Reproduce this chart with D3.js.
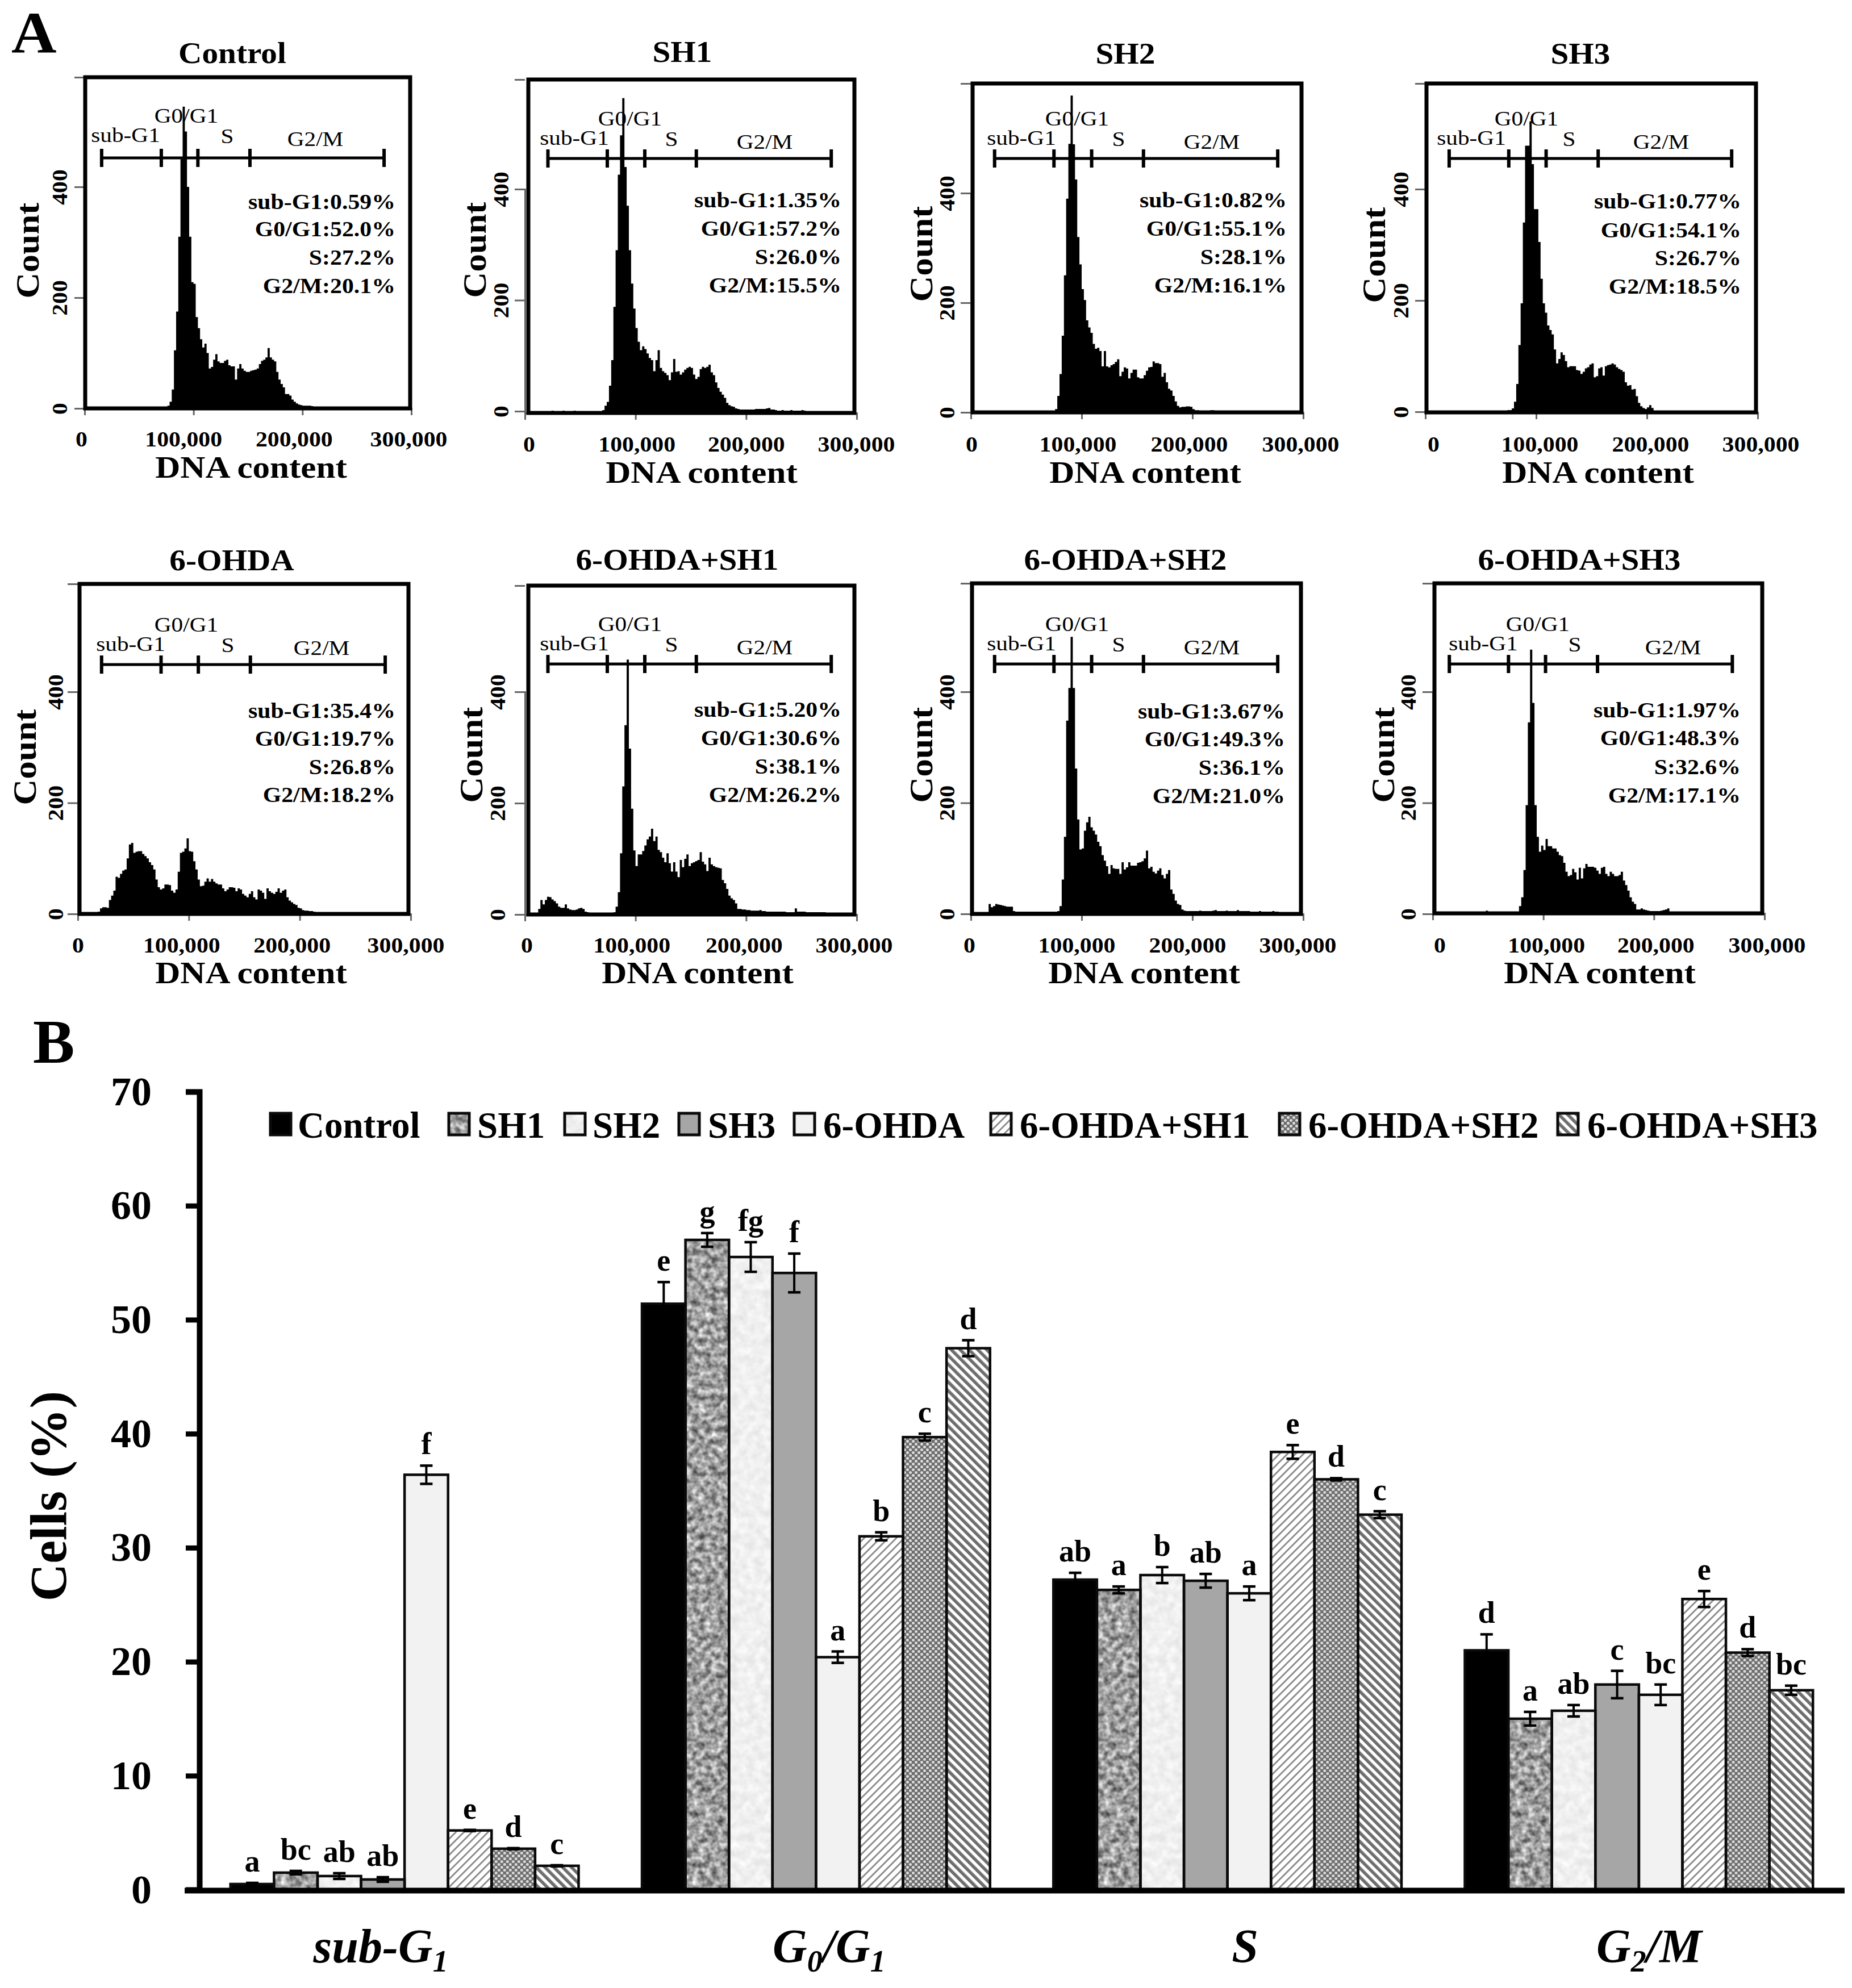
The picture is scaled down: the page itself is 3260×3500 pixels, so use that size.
<!DOCTYPE html>
<html>
<head>
<meta charset="utf-8">
<script src="https://cdn.jsdelivr.net/npm/d3@7"></script>
<style>
  html, body { margin: 0; background: #fff; }
  text { font-family: "Liberation Serif", serif; fill: #000; }
</style>
</head>
<body>
<script>
// ---- panel A data ----
var panelNames = ["Control", "SH1", "SH2", "SH3", "6-OHDA", "6-OHDA+SH1", "6-OHDA+SH2", "6-OHDA+SH3"];
var binWidth = 2000;
var tickX = [0, 100000, 200000, 300000];
var tickY = [0, 200, 400];
var gateNames = ["sub-G1", "G0/G1", "S", "G2/M"];

var statSub = ["0.59", "1.35", "0.82", "0.77", "35.4", "5.20", "3.67", "1.97"];
var statG0  = ["52.0", "57.2", "55.1", "54.1", "19.7", "30.6", "49.3", "48.3"];
var statS   = ["27.2", "26.0", "28.1", "26.7", "26.8", "38.1", "36.1", "32.6"];
var statG2  = ["20.1", "15.5", "16.1", "18.5", "18.2", "26.2", "21.0", "17.1"];

var gates = [
    [15600, 70400, 104000, 151800, 275000],
    [20800, 74500, 108400, 155000, 277000],
    [21400, 75000, 109000, 155800, 277000],
    [21500, 75300, 109000, 156000, 276500],
    [21400, 75000, 108600, 155500, 277000],
    [20800, 74500, 108400, 155000, 277000],
    [21400, 75000, 109000, 155800, 277000],
    [15000, 68500, 102000, 149000, 270900]
];

// first bin of each histogram, then counts per bin
var histStart = [38, 10, 8, 8, 9, 6, 8, 20];
var histControl = [5,12,34,105,175,310,450,545,500,400,310,228,225,165,145,125,110,117,100,72,75,88,98,85,82,82,86,88,78,76,76,52,72,80,72,68,66,66,68,69,70,72,80,86,88,92,109,92,88,85,66,52,44,38,26,26,23,16,12,9,7,6,5,5,5,5,4,3,2,1];
var histSH1 = [0,0,1,0,0,0,0,1,0,0,0,0,1,0,0,0,0,0,0,0,0,0,0,0,0,2,10,17,46,92,188,290,426,497,564,440,370,290,230,185,150,125,110,117,112,104,96,92,72,92,110,78,72,69,65,56,70,94,71,72,66,70,75,78,80,78,66,58,62,76,80,78,80,84,70,65,52,42,35,30,24,15,11,9,8,5,4,3,3,3,3,3,3,3,4,4,4,4,4,5,6,3,3,2,1,1,2,1,1,1,2,1,1,1,1,2,1];
var histSH2 = [0,0,1,1,0,0,0,0,0,0,0,0,0,1,1,0,1,0,0,0,0,0,1,1,1,1,0,1,1,3,6,30,70,140,250,390,490,578,489,425,320,270,225,205,168,155,145,125,116,118,112,84,112,84,82,86,88,92,97,66,74,82,80,62,72,78,78,64,62,62,68,76,82,83,93,90,90,88,65,72,55,43,40,30,20,12,9,10,10,11,11,10,6,4,4,3,3,3,3,3,4,4,3,3,2,1];
var histSH3 = [0,0,0,0,0,0,0,0,0,0,0,0,0,0,0,0,2,1,1,1,2,1,1,1,1,1,1,2,2,3,3,6,18,50,120,195,340,478,478,522,445,364,364,305,239,195,178,155,147,139,112,87,95,107,102,91,80,82,82,82,75,74,68,72,78,80,85,87,62,64,78,80,65,82,84,85,87,85,80,77,75,72,53,47,48,40,41,28,16,10,7,5,8,12,7,2];
var hist6OHDA = [4,10,12,12,11,25,33,42,67,65,72,78,80,100,125,128,110,112,113,113,108,104,100,93,88,80,62,48,44,46,53,53,52,42,38,44,76,110,112,118,136,113,112,95,80,62,50,51,58,64,58,63,58,55,53,53,46,41,44,48,48,47,41,46,44,36,33,30,36,41,30,26,44,42,38,27,46,41,38,36,40,46,38,42,44,30,24,21,18,16,11,10,7,6,6,5,5,4,3,2,2,2,2,2,1,1,1,1,1,2,1,1,1];
var hist6SH1 = [10,26,18,26,32,31,27,24,20,14,12,12,18,11,9,8,8,9,11,12,10,5,4,3,3,3,3,3,3,3,3,3,3,3,4,14,40,110,230,340,458,298,190,115,87,108,108,114,124,135,140,154,132,140,116,112,102,94,110,92,77,94,77,67,98,85,100,108,87,92,94,96,98,112,95,90,78,102,90,87,85,84,83,62,56,46,34,29,26,20,10,10,9,9,8,8,7,7,7,7,8,6,6,5,5,5,5,5,5,5,5,5,4,4,4,4,11,5,5,5,5,4,4,4,4,4,4,4,4,4,3,3,3,3,3,3,3];
var hist6SH2 = [18,12,14,18,17,16,15,14,13,13,13,5,4,4,4,4,4,4,4,4,4,4,4,4,4,4,4,4,4,4,4,5,14,62,139,348,407,499,407,262,170,116,118,150,165,175,156,150,143,130,122,106,96,86,72,88,82,81,81,72,93,80,84,93,87,87,87,92,93,95,100,114,82,85,76,73,78,82,70,64,72,79,44,36,24,18,16,8,6,5,5,5,5,5,5,6,5,5,5,5,5,6,7,5,5,5,5,6,5,5,5,5,7,5,5,5,5,5,4,4,4,4,5,4,4,4,4,4,5,4,4];
var hist6SH3 = [2,2,3,3,6,3,3,2,2,3,2,2,2,2,2,2,2,2,3,14,30,79,196,345,476,380,196,139,112,123,115,135,122,122,118,118,112,106,104,92,76,68,70,81,75,62,83,64,82,90,85,85,85,83,78,72,83,85,72,68,76,72,68,68,70,76,60,52,42,30,22,18,8,8,10,8,7,6,5,5,5,5,5,6,7,8,10,4,4,4,3,3,3,3,3,3,3,3,3,3,3,3,2,2,2,2,2,2,2];
var histCounts = [histControl, histSH1, histSH2, histSH3, hist6OHDA, hist6SH1, hist6SH2, hist6SH3];

// ---- panel B data ----
var phases = ["sub-G1", "G0/G1", "S", "G2/M"];
var phaseParts = [
    [["sub-G", 0], ["1", 1]],
    [["G", 0], ["0", 1], ["/G", 0], ["1", 1]],
    [["S", 0]],
    [["G", 0], ["2", 1], ["/M", 0]]
];
var groups = panelNames;

var meansSub = [0.5, 1.5, 1.2, 0.9, 36.4, 5.2, 3.6, 2.1];
var meansG0  = [51.4, 57.0, 55.5, 54.1, 20.4, 31.0, 39.7, 47.5];
var meansS   = [27.2, 26.3, 27.6, 27.1, 26.0, 38.4, 36.0, 32.9];
var meansG2  = [21.0, 15.0, 15.7, 18.0, 17.1, 25.5, 20.8, 17.5];

var errSub = [0.1, 0.15, 0.25, 0.2, 0.8, 0.05, 0.05, 0.05];
var errG0  = [1.9, 0.6, 1.3, 1.7, 0.5, 0.35, 0.3, 0.7];
var errS   = [0.6, 0.3, 0.7, 0.6, 0.6, 0.6, 0.1, 0.3];
var errG2  = [1.4, 0.6, 0.5, 1.2, 0.9, 0.7, 0.3, 0.4];

var lettersSub = ["a", "bc", "ab", "ab", "f", "e", "d", "c"];
var lettersG0  = ["e", "g", "fg", "f", "a", "b", "c", "d"];
var lettersS   = ["ab", "a", "b", "ab", "a", "e", "d", "c"];
var lettersG2  = ["d", "a", "ab", "c", "bc", "e", "d", "bc"];

var means   = [meansSub, meansG0, meansS, meansG2];
var errs    = [errSub, errG0, errS, errG2];
var letters = [lettersSub, lettersG0, lettersS, lettersG2];

// ---- layout of the panels, in page pixels ----
// L R T B = frame, x0 x300 = tick ends, y0 y400 = count ticks
var layout = [
  {L: 150,  R: 722,  T: 136,  B: 719,  x0: 149,  x300: 724,  y0: 719,  y400: 329,  gateY: 278,  title: [409, 111],   dna: [442, 841],   labY: 786,  countX: 68,   countY: 441,  tickOff: -31, off: [-6, -18, -15, -5], gateLab: [72, 179, 251, 406], statR: 696,  stat: [368, 416, 466, 516],     labDy: -4},
  {L: 930,  R: 1504, T: 140,  B: 727,  x0: 924,  x300: 1508, y0: 724,  y400: 333,  gateY: 279,  title: [1201, 109],  dna: [1235, 850],  labY: 795,  countX: 855,  countY: 440,  tickOff: -29, off: [7, 2, 0, -1],      gateLab: [87, 185, 258, 422], statR: 1481, stat: [365, 415, 465, 515],     labDy: 0},
  {L: 1712, R: 2291, T: 147,  B: 726,  x0: 1709, x300: 2294, y0: 726,  y400: 340,  gateY: 279,  title: [1981, 112],  dna: [2016, 850],  labY: 795,  countX: 1641, countY: 447,  tickOff: -29, off: [1, -7, -6, -5],    gateLab: [89, 187, 260, 424], statR: 2265, stat: [365, 415, 465, 515],     labDy: 0},
  {L: 2511, R: 3091, T: 147,  B: 726,  x0: 2509, x300: 3094, y0: 725,  y400: 333,  gateY: 279,  title: [2782, 112],  dna: [2813, 850],  labY: 795,  countX: 2438, countY: 449,  tickOff: -30, off: [14, 6, 6, 5],      gateLab: [81, 178, 253, 415], statR: 3065, stat: [367, 418, 467, 517],     labDy: 0},
  {L: 140,  R: 719,  T: 1028, B: 1609, x0: 137,  x300: 723,  y0: 1609, y400: 1218, gateY: 1170, title: [408, 1004],  dna: [442, 1731],  labY: 1677, countX: 63,   countY: 1333, tickOff: -26, off: [0, -13, -14, -9],  gateLab: [93, 191, 264, 429], statR: 696,  stat: [1264, 1313, 1363, 1412], labDy: 0},
  {L: 930,  R: 1504, T: 1031, B: 1610, x0: 924,  x300: 1508, y0: 1610, y400: 1218, gateY: 1169, title: [1192, 1003], dna: [1228, 1731], labY: 1677, countX: 849,  countY: 1329, tickOff: -35, off: [3, -7, -4, -5],    gateLab: [87, 185, 258, 422], statR: 1481, stat: [1262, 1312, 1362, 1412], labDy: 0},
  {L: 1711, R: 2290, T: 1027, B: 1609, x0: 1709, x300: 2294, y0: 1609, y400: 1218, gateY: 1169, title: [1981, 1003], dna: [2014, 1731], labY: 1677, countX: 1641, countY: 1329, tickOff: -29, off: [-3, -9, -9, -10],  gateLab: [89, 187, 260, 424], statR: 2262, stat: [1265, 1314, 1364, 1414], labDy: 0},
  {L: 2525, R: 3102, T: 1027, B: 1608, x0: 2522, x300: 3106, y0: 1609, y400: 1218, gateY: 1169, title: [2780, 1003], dna: [2816, 1731], labY: 1677, countX: 2454, countY: 1329, tickOff: -30, off: [12, 5, 3, 4],      gateLab: [89, 185, 250, 423], statR: 3064, stat: [1263, 1312, 1363, 1413], labDy: 0}
];

var svg = d3.select("body").append("svg")
    .attr("width", 3260)
    .attr("height", 3500)
    .style("display", "block");

// the original panels are set in a wider face than Liberation Serif
var widen = (k) => (sel) => {
    sel.each(function () {
        this.setAttribute("textLength", this.getComputedTextLength() * k);
        this.setAttribute("lengthAdjust", "spacingAndGlyphs");
    });
};

var defs = svg.append("defs");

var noiseFilter = (id, freq, c, o) => {
    var f = defs.append("filter").attr("id", id)
        .attr("x", 0).attr("y", 0).attr("width", 1).attr("height", 1)
        .attr("color-interpolation-filters", "sRGB");
    f.append("feTurbulence")
        .attr("type", "fractalNoise")
        .attr("baseFrequency", freq)
        .attr("numOctaves", 2)
        .attr("seed", 7);
    f.append("feColorMatrix")
        .attr("type", "matrix")
        .attr("values", `${c} 0 0 0 ${o} ${c} 0 0 0 ${o} ${c} 0 0 0 ${o} 0 0 0 0 1`);
};
noiseFilter("noiseDark", 0.09, 1.0, 0.12);
noiseFilter("noiseLight", 0.07, 0.14, 0.87);

var linePattern = (id, size, angle, lineW, colour) => {
    var p = defs.append("pattern").attr("id", id)
        .attr("patternUnits", "userSpaceOnUse")
        .attr("width", size).attr("height", size)
        .attr("patternTransform", `rotate(${angle})`);
    p.append("rect").attr("width", size).attr("height", size).attr("fill", "#fff");
    p.append("rect").attr("width", lineW).attr("height", size).attr("fill", colour);
};
linePattern("hatchUp", 10, 45, 2.6, "#808080");
linePattern("hatchDown", 11, -45, 5.6, "#6e6e6e");

var dots = defs.append("pattern").attr("id", "weave")
    .attr("patternUnits", "userSpaceOnUse")
    .attr("width", 10).attr("height", 10);
dots.append("rect").attr("width", 10).attr("height", 10).attr("fill", "#6c6c6c");
dots.append("circle").attr("cx", 2.5).attr("cy", 2.5).attr("r", 2.5).attr("fill", "#dcdcdc");
dots.append("circle").attr("cx", 7.5).attr("cy", 7.5).attr("r", 2.5).attr("fill", "#dcdcdc");

var barFills = [
    {fill: "#000"},
    {fill: "#999", filter: "url(#noiseDark)"},
    {fill: "#eee", filter: "url(#noiseLight)"},
    {fill: "#a6a6a6"},
    {fill: "#f2f2f2"},
    {fill: "url(#hatchUp)"},
    {fill: "url(#weave)"},
    {fill: "url(#hatchDown)"}
];

// ---- panel A ----
var drawPanel = (name, i) => {
    var p = layout[i];
    var g = svg.append("g");

    var x = d3.scaleLinear().domain([0, 300000]).range([p.x0, p.x300]);
    var y = d3.scaleLinear().domain([0, 400]).range([p.y0, p.y400]);
    var topCount = y.invert(p.T);

    var bins = histCounts[i].map((c, k) => ({bin: histStart[i] + k, count: c}));
    bins.push({bin: histStart[i] + bins.length, count: 0});

    var area = d3.area()
        .curve(d3.curveStepAfter)
        .x((d) => x(d.bin * binWidth))
        .y0(y(0))
        .y1((d) => y(d.count));

    g.append("path").datum(bins).attr("d", area).attr("fill", "#000");

    var axisX = g.append("g")
        .attr("transform", `translate(0,${p.B})`)
        .call(d3.axisBottom(x).tickValues(tickX).tickSize(12).tickFormat(d3.format(",")));
    axisX.selectAll("path, line").attr("stroke", "#666").attr("stroke-width", 3);
    axisX.selectAll("text")
        .attr("y", p.labY - p.B)
        .attr("dy", 0)
        .attr("dx", (d, k) => p.off[k])
        .attr("font-family", "Liberation Serif")
        .attr("font-weight", "bold")
        .attr("font-size", 38)
        .call(widen(1.1));

    var axisY = g.append("g")
        .attr("transform", `translate(${p.x0},0)`)
        .call(d3.axisLeft(y).tickValues(tickY.concat([topCount])).tickSize(18)
                .tickFormat((d) => d > 400 ? "" : d));
    axisY.selectAll("path, line").attr("stroke", "#666").attr("stroke-width", 3);
    axisY.selectAll("text")
        .attr("transform", "rotate(-90)")
        .attr("x", 0)
        .attr("y", p.tickOff)
        .attr("dy", 0)
        .attr("text-anchor", "middle")
        .attr("font-family", "Liberation Serif")
        .attr("font-weight", "bold")
        .attr("font-size", 38)
        .call(widen(1.1));

    g.append("rect")
        .attr("x", p.L).attr("y", p.T)
        .attr("width", p.R - p.L).attr("height", p.B - p.T)
        .attr("fill", "none")
        .attr("stroke", "#000")
        .attr("stroke-width", 7);

    // gates
    var gateX = gates[i].map((d) => x(d));
    g.append("line")
        .attr("x1", gateX[0]).attr("x2", gateX[4])
        .attr("y1", p.gateY).attr("y2", p.gateY)
        .attr("stroke", "#000").attr("stroke-width", 5);
    g.selectAll(".gate").data(gateX).enter().append("line")
        .attr("x1", (d) => d).attr("x2", (d) => d)
        .attr("y1", p.gateY - 16).attr("y2", p.gateY + 16)
        .attr("stroke", "#000").attr("stroke-width", 6);

    var gateDy = [-24, -58, -22, -17];
    g.selectAll(".gateLabel").data(gateNames).enter().append("text")
        .attr("x", (d, k) => p.x0 + p.gateLab[k])
        .attr("y", (d, k) => p.gateY + gateDy[k] + p.labDy)
        .attr("text-anchor", "middle")
        .attr("font-size", 35)
        .text((d) => d)
        .call(widen(1.18));

    // percentages
    var lines = [`sub-G1:${statSub[i]}%`, `G0/G1:${statG0[i]}%`, `S:${statS[i]}%`, `G2/M:${statG2[i]}%`];
    g.selectAll(".stat").data(lines).enter().append("text")
        .attr("x", p.statR)
        .attr("y", (d, k) => p.stat[k])
        .attr("text-anchor", "end")
        .attr("font-weight", "bold")
        .attr("font-size", 38)
        .text((d) => d)
        .call(widen(1.1));

    g.append("text")
        .attr("x", p.title[0]).attr("y", p.title[1])
        .attr("text-anchor", "middle")
        .attr("font-weight", "bold")
        .attr("font-size", 53)
        .text(name)
        .call(widen(1.08));

    g.append("text")
        .attr("x", p.dna[0]).attr("y", p.dna[1])
        .attr("text-anchor", "middle")
        .attr("font-weight", "bold")
        .attr("font-size", 55)
        .text("DNA content")
        .call(widen(1.11));

    g.append("text")
        .attr("transform", `translate(${p.countX},${p.countY}) rotate(-90)`)
        .attr("text-anchor", "middle")
        .attr("font-weight", "bold")
        .attr("font-size", 56)
        .text("Count")
        .call(widen(1.13));
};

panelNames.forEach(drawPanel);

svg.append("text").attr("x", 20).attr("y", 93)
    .attr("font-weight", "bold").attr("font-size", 104).text("A").call(widen(1.06));
svg.append("text").attr("x", 58).attr("y", 1871)
    .attr("font-weight", "bold").attr("font-size", 110).text("B");

// ---- panel B ----
var bY = d3.scaleLinear().domain([0, 70]).range([3327, 1922]);
var bX = d3.scaleBand().domain(phases).range([350, 3247]).paddingInner(0.154).paddingOuter(0.077);
var bG = d3.scaleBand().domain(groups).range([0, bX.bandwidth()]);

phases.forEach((phase, pi) => {
    var g = svg.append("g").attr("transform", `translate(${bX(phase)},0)`);
    var rows = groups.map((name, gi) => ({
        name: name, gi: gi, mean: means[pi][gi], err: errs[pi][gi], letter: letters[pi][gi]
    }));

    g.selectAll(".barFill").data(rows).enter().append("rect")
        .attr("x", (d) => bG(d.name))
        .attr("y", (d) => bY(d.mean))
        .attr("width", bG.bandwidth())
        .attr("height", (d) => bY(0) - bY(d.mean))
        .attr("fill", (d) => barFills[d.gi].fill)
        .attr("filter", (d) => barFills[d.gi].filter || null);

    g.selectAll(".barEdge").data(rows).enter().append("rect")
        .attr("x", (d) => bG(d.name))
        .attr("y", (d) => bY(d.mean))
        .attr("width", bG.bandwidth())
        .attr("height", (d) => bY(0) - bY(d.mean))
        .attr("fill", "none")
        .attr("stroke", "#0a0a0a")
        .attr("stroke-width", 4.5);

    var mid = (d) => bG(d.name) + bG.bandwidth() / 2;
    var err = g.selectAll(".err").data(rows).enter().append("g");
    err.append("line")
        .attr("x1", mid).attr("x2", mid)
        .attr("y1", (d) => bY(d.mean + d.err))
        .attr("y2", (d) => bY(d.mean - d.err))
        .attr("stroke", "#000").attr("stroke-width", 4);
    err.append("line")
        .attr("x1", (d) => mid(d) - 11).attr("x2", (d) => mid(d) + 11)
        .attr("y1", (d) => bY(d.mean + d.err))
        .attr("y2", (d) => bY(d.mean + d.err))
        .attr("stroke", "#000").attr("stroke-width", 4.5);
    err.append("line")
        .attr("x1", (d) => mid(d) - 11).attr("x2", (d) => mid(d) + 11)
        .attr("y1", (d) => bY(d.mean - d.err))
        .attr("y2", (d) => bY(d.mean - d.err))
        .attr("stroke", "#000")
        .attr("stroke-width", 4.5);

    g.selectAll(".letter").data(rows).enter().append("text")
        .attr("x", mid)
        .attr("y", (d) => bY(d.mean + d.err) - 20)
        .attr("text-anchor", "middle")
        .attr("font-weight", "bold")
        .attr("font-size", 54)
        .text((d) => d.letter);
});

var axisLeftB = svg.append("g")
    .attr("transform", "translate(351,0)")
    .call(d3.axisLeft(bY).tickValues(d3.range(0, 71, 10)).tickSize(24).tickPadding(60));
axisLeftB.select(".domain").attr("stroke", "#000").attr("stroke-width", 10);
axisLeftB.selectAll("line").attr("stroke", "#000").attr("stroke-width", 9);
axisLeftB.selectAll("text")
    .attr("font-family", "Liberation Serif")
    .attr("font-weight", "bold")
    .attr("font-size", 72);

var phaseDx = [-42, 23, 31, 18];
var axisBottomB = svg.append("g")
    .attr("transform", "translate(0,3328)")
    .call(d3.axisBottom(bX).tickSize(0).tickPadding(70).tickFormat(""));
axisBottomB.select(".domain")
    .attr("d", "M325,0.5H3247")
    .attr("stroke", "#000")
    .attr("stroke-width", 10);
axisBottomB.selectAll(".tick text")
    .attr("y", 127)
    .attr("dy", 0)
    .attr("dx", (d, k) => phaseDx[k])
    .attr("font-family", "Liberation Serif")
    .attr("font-weight", "bold")
    .attr("font-style", "italic")
    .attr("font-size", 84)
    .each(function (d, k) {
        var t = d3.select(this);
        var lowered = 0;
        phaseParts[k].forEach((part) => {
            var sub = part[1] === 1;
            t.append("tspan")
                .attr("dy", sub ? 16 - lowered : -lowered)
                .attr("font-size", sub ? 54 : 84)
                .text(part[0]);
            lowered = sub ? 16 : 0;
        });
    });

// legend
var legendBoxX  = [476, 790, 994, 1195, 1398, 1744, 2252, 2742];
var legendTextX = [524, 840, 1043, 1246, 1449, 1795, 2303, 2794];
var legend = svg.selectAll(".legend").data(groups).enter().append("g");
legend.append("rect")
    .attr("x", (d, i) => legendBoxX[i]).attr("y", 1960)
    .attr("width", 36).attr("height", 38)
    .attr("fill", (d, i) => barFills[i].fill)
    .attr("filter", (d, i) => barFills[i].filter || null);
legend.append("rect")
    .attr("x", (d, i) => legendBoxX[i]).attr("y", 1960)
    .attr("width", 36).attr("height", 38)
    .attr("fill", "none")
    .attr("stroke", "#0a0a0a")
    .attr("stroke-width", 5);
legend.append("text")
    .attr("x", (d, i) => legendTextX[i]).attr("y", 2003)
    .attr("font-weight", "bold")
    .attr("font-size", 65)
    .text((d) => d);

svg.append("text")
    .attr("transform", "translate(116,2634) rotate(-90)")
    .attr("text-anchor", "middle")
    .attr("font-weight", "bold")
    .attr("font-size", 92)
    .text("Cells (%)");
</script>
</body>
</html>
